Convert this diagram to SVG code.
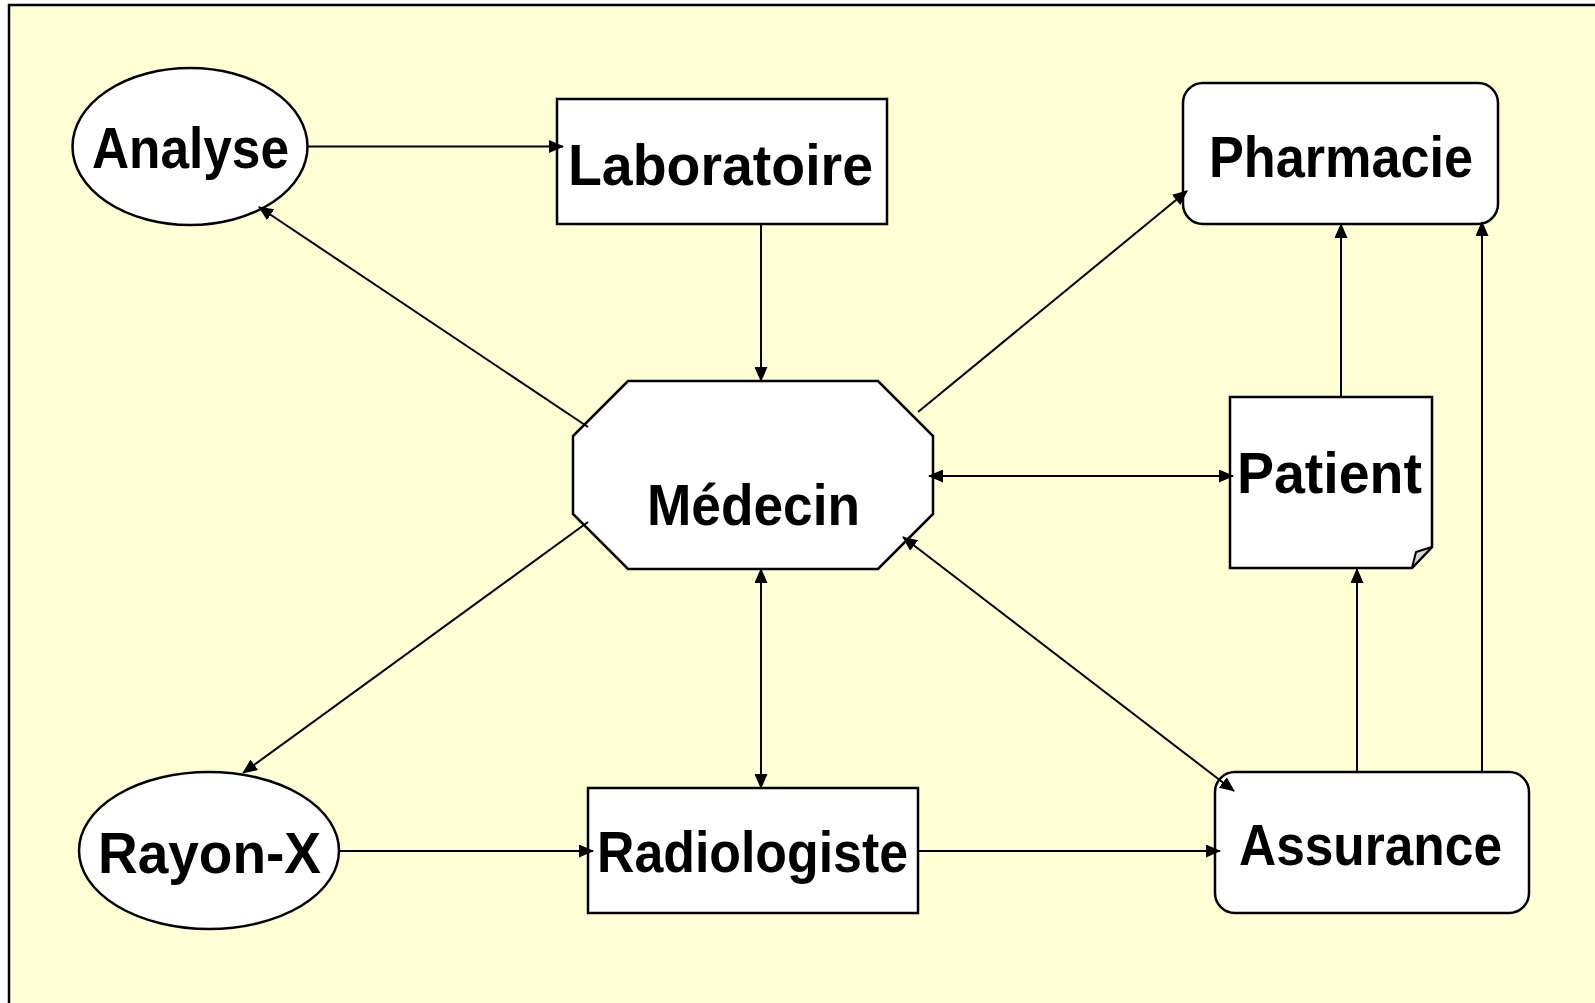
<svg xmlns="http://www.w3.org/2000/svg" width="1595" height="1003" viewBox="0 0 1595 1003">
  <style>
    .shape { fill: #ffffff; stroke: #000000; stroke-width: 2.5; }
    .label { font-family: "Liberation Sans", Arial, sans-serif; font-weight: bold; font-size: 57px; fill: #000000; }
    .link { fill: none; stroke: #000000; stroke-width: 2; }
    .fold { fill: #d6d6d6; stroke: #000000; stroke-width: 2; stroke-linejoin: round; }
  </style>
  <defs>
    <marker id="arrow" markerUnits="userSpaceOnUse" markerWidth="15" markerHeight="13" viewBox="0 0 15 13" refX="14" refY="6.5" orient="auto-start-reverse">
      <path d="M0,0 L15,6.5 L0,13 z" fill="#000000"/>
    </marker>
  </defs>

  <!-- page background and frame -->
  <rect x="0" y="0" width="1595" height="1003" fill="#ffffff"/>
  <rect x="9" y="5" width="1600" height="1010" fill="#ffffd5" stroke="#000000" stroke-width="2.5"/>

  <!-- nodes -->
  <g id="analyse">
    <ellipse class="shape" cx="190" cy="146.5" rx="117.5" ry="78.5"/>
    <text class="label" x="92" y="168" textLength="197" lengthAdjust="spacingAndGlyphs">Analyse</text>
  </g>

  <g id="laboratoire">
    <rect class="shape" x="557" y="99" width="330" height="125"/>
    <text class="label" x="568" y="185" textLength="305" lengthAdjust="spacingAndGlyphs">Laboratoire</text>
  </g>

  <g id="pharmacie">
    <rect class="shape" x="1183" y="83" width="315" height="141" rx="20" ry="20"/>
    <text class="label" x="1209" y="177" textLength="264" lengthAdjust="spacingAndGlyphs">Pharmacie</text>
  </g>

  <g id="medecin">
    <polygon class="shape" points="628,381 878,381 933,436 933,514 878,569 628,569 573,514 573,436"/>
    <text class="label" x="647" y="525" textLength="213" lengthAdjust="spacingAndGlyphs">Médecin</text>
  </g>

  <g id="patient">
    <path class="shape" d="M1230,397 L1432,397 L1432,547 L1412,568 L1230,568 Z"/>
    <path class="fold" d="M1412,568 L1416,552 L1432,547 Z"/>
    <text class="label" x="1237" y="493" textLength="185" lengthAdjust="spacingAndGlyphs">Patient</text>
  </g>

  <g id="rayon-x">
    <ellipse class="shape" cx="209" cy="850.5" rx="130" ry="78.5"/>
    <text class="label" x="98" y="873" textLength="223" lengthAdjust="spacingAndGlyphs">Rayon-X</text>
  </g>

  <g id="radiologiste">
    <rect class="shape" x="588" y="788" width="330" height="125"/>
    <text class="label" x="597" y="872" textLength="311" lengthAdjust="spacingAndGlyphs">Radiologiste</text>
  </g>

  <g id="assurance">
    <rect class="shape" x="1215" y="772" width="314" height="141" rx="20" ry="20"/>
    <text class="label" x="1239" y="865" textLength="263" lengthAdjust="spacingAndGlyphs">Assurance</text>
  </g>

  <!-- connectors -->
  <g id="connectors">
    <line class="link" x1="307" y1="146.5" x2="563" y2="146.5" marker-end="url(#arrow)"/>
    <line class="link" x1="588" y1="427" x2="259" y2="207" marker-end="url(#arrow)"/>
    <line class="link" x1="761" y1="224" x2="761" y2="381" marker-end="url(#arrow)"/>
    <line class="link" x1="918" y1="412" x2="1187" y2="191" marker-end="url(#arrow)"/>
    <line class="link" x1="929" y1="476" x2="1233" y2="476" marker-start="url(#arrow)" marker-end="url(#arrow)"/>
    <line class="link" x1="903" y1="537" x2="1234" y2="791" marker-start="url(#arrow)" marker-end="url(#arrow)"/>
    <line class="link" x1="588" y1="522" x2="243" y2="773" marker-end="url(#arrow)"/>
    <line class="link" x1="761" y1="569" x2="761" y2="788" marker-start="url(#arrow)" marker-end="url(#arrow)"/>
    <line class="link" x1="339" y1="851" x2="593" y2="851" marker-end="url(#arrow)"/>
    <line class="link" x1="918" y1="851" x2="1220" y2="851" marker-end="url(#arrow)"/>
    <line class="link" x1="1357" y1="772" x2="1357" y2="569" marker-end="url(#arrow)"/>
    <line class="link" x1="1341" y1="397" x2="1341" y2="224" marker-end="url(#arrow)"/>
    <line class="link" x1="1482" y1="772" x2="1482" y2="222" marker-end="url(#arrow)"/>
  </g>
</svg>
